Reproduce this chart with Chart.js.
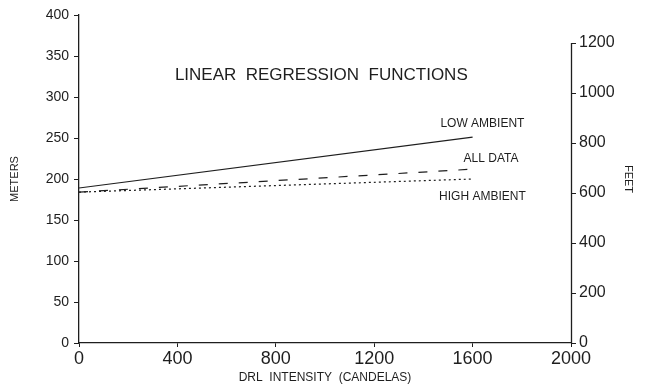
<!DOCTYPE html>
<html>
<head>
<meta charset="utf-8">
<script src="https://cdn.jsdelivr.net/npm/chart.js@4.4.1/dist/chart.umd.min.js"></script>
<style>
  html, body { margin: 0; padding: 0; background: #fff; }
  #wrap { position: relative; width: 647px; height: 386px; }
</style>
</head>
<body>
<div id="wrap"><canvas id="chart"></canvas></div>
<script>
// DRL intensity (candelas) at the ends of each regression line
const drlIntensity = [0, 1600];
// sight distance in meters
const lowAmbient = [189, 251];
const allData = [184, 212];
const highAmbient = [184, 200];

const xTicks = [0, 400, 800, 1200, 1600, 2000];
const meterTicks = [0, 50, 100, 150, 200, 250, 300, 350, 400];
const feetTicks = [0, 200, 400, 600, 800, 1000, 1200];
const M_TO_FT = 3.28084;

const ink = '#1e1e1e';
const fontFamily = '"Liberation Sans", Arial, sans-serif';

const toPoints = (ys) => drlIntensity.map((x, i) => ({ x: x, y: ys[i] }));
const plain = (v) => String(v);

// texts placed inside the plot, anchored in data units
const plotTexts = [
    { text: 'LINEAR  REGRESSION  FUNCTIONS', x: 985, y: 326, size: 17 },
    { text: 'LOW AMBIENT', x: 1640, y: 267, size: 12 },
    { text: 'ALL DATA', x: 1675, y: 225, size: 12 },
    { text: 'HIGH AMBIENT', x: 1640, y: 178, size: 12 }
];

const textPlugin = {
    id: 'plotTexts',
    afterDatasetsDraw(chart) {
        const ctx = chart.ctx;
        const xs = chart.scales.x, ys = chart.scales.y;
        ctx.save();
        ctx.fillStyle = ink;
        ctx.textAlign = 'center';
        ctx.textBaseline = 'middle';
        plotTexts.forEach(t => {
            ctx.font = t.size + 'px ' + fontFamily;
            ctx.fillText(t.text, xs.getPixelForValue(t.x), ys.getPixelForValue(t.y));
        });
        // right axis line only runs up to 1200 ft
        const ft = chart.scales.yFeet;
        ctx.strokeStyle = ink;
        ctx.lineWidth = 1.3;
        ctx.beginPath();
        ctx.moveTo(ft.left + 0.5, ft.getPixelForValue(1200));
        ctx.lineTo(ft.left + 0.5, ft.getPixelForValue(0));
        ctx.stroke();
        ctx.restore();
    }
};

const lineStyle = { borderColor: ink, borderWidth: 1.2, pointRadius: 0, fill: false, tension: 0 };

new Chart(document.getElementById('chart'), {
    type: 'line',
    data: {
        datasets: [
            Object.assign({ label: 'LOW AMBIENT', data: toPoints(lowAmbient) }, lineStyle),
            Object.assign({ label: 'ALL DATA', data: toPoints(allData), borderDash: [9, 11] }, lineStyle),
            Object.assign({ label: 'HIGH AMBIENT', data: toPoints(highAmbient), borderDash: [2, 3] }, lineStyle)
        ]
    },
    options: {
        responsive: true,
        maintainAspectRatio: false,
        animation: false,
        layout: { padding: { top: 15, left: 0, right: 0, bottom: 0 } },
        plugins: { legend: { display: false }, tooltip: { enabled: false } },
        scales: {
            x: {
                type: 'linear',
                min: 0,
                max: 2000,
                afterBuildTicks: (s) => { s.ticks = xTicks.map(v => ({ value: v })); },
                afterFit: (s) => { s.height = 43; },
                border: { color: ink, width: 1.3 },
                grid: { drawOnChartArea: false, color: ink, tickLength: 4 },
                ticks: { color: ink, padding: 1, maxRotation: 0, autoSkip: false, callback: plain, font: { family: fontFamily, size: 18 } },
                title: { display: true, text: 'DRL  INTENSITY  (CANDELAS)', color: ink, padding: { top: 0, bottom: 1 }, font: { family: fontFamily, size: 12 } }
            },
            y: {
                type: 'linear',
                position: 'left',
                min: 0,
                max: 400,
                afterBuildTicks: (s) => { s.ticks = meterTicks.map(v => ({ value: v })); },
                afterFit: (s) => { s.width = 79; },
                border: { color: ink, width: 1.3 },
                grid: { drawOnChartArea: false, color: ink, tickLength: 5 },
                ticks: { color: ink, padding: 5, callback: plain, font: { family: fontFamily, size: 14 } },
                title: { display: true, text: 'METERS', color: ink, padding: { top: 8, bottom: 0 }, font: { family: fontFamily, size: 11 } }
            },
            yFeet: {
                type: 'linear',
                position: 'right',
                min: 0,
                max: 400 * M_TO_FT,
                afterBuildTicks: (s) => { s.ticks = feetTicks.map(v => ({ value: v })); },
                afterFit: (s) => { s.width = 76; },
                border: { display: false },
                grid: { drawOnChartArea: false, color: ink, tickLength: 5 },
                ticks: { color: ink, padding: 3, callback: plain, font: { family: fontFamily, size: 16 } },
                title: { display: true, text: 'FEET', color: ink, padding: { top: 12, bottom: 0 }, font: { family: fontFamily, size: 11 } }
            }
        }
    },
    plugins: [textPlugin]
});
</script>
</body>
</html>
